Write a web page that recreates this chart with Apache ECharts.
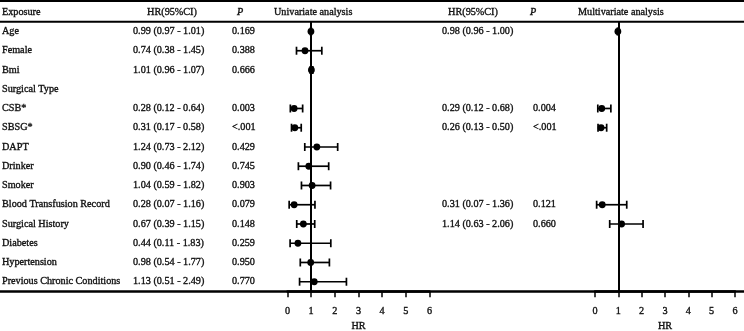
<!DOCTYPE html>
<html>
<head>
<meta charset="utf-8">
<script src="https://cdn.jsdelivr.net/npm/echarts@6/dist/echarts.min.js"></script>
<style>html,body{margin:0;padding:0;background:#fff}#c{width:744px;height:331px}</style>
</head>
<body>
<div id="c"></div>
<script>
// ---- data ----
const exposures = ['Age','Female','Bmi','Surgical Type','CSB*','SBSG*','DAPT','Drinker','Smoker','Blood Transfusion Record','Surgical History','Diabetes','Hypertension','Previous Chronic Conditions'];
const uniHR = [0.99,0.74,1.01,null,0.28,0.31,1.24,0.90,1.04,0.28,0.67,0.44,0.98,1.13];
const uniLo = [0.97,0.38,0.96,null,0.12,0.17,0.73,0.46,0.59,0.07,0.39,0.11,0.54,0.51];
const uniHi = [1.01,1.45,1.07,null,0.64,0.58,2.12,1.74,1.82,1.16,1.15,1.83,1.77,2.49];
const uniP  = ['0.169','0.388','0.666','','0.003','<.001','0.429','0.745','0.903','0.079','0.148','0.259','0.950','0.770'];
const mulHR = [0.98,null,null,null,0.29,0.26,null,null,null,0.31,1.14,null,null,null];
const mulLo = [0.96,null,null,null,0.12,0.13,null,null,null,0.07,0.63,null,null,null];
const mulHi = [1.00,null,null,null,0.68,0.50,null,null,null,1.36,2.06,null,null,null];
const mulP  = ['','','','','0.004','<.001','','','','0.121','0.660','','',''];
const xTicks = [0,1,2,3,4,5,6];
const headers = {exposure:'Exposure', ci:'HR(95%CI)', p:'P', uni:'Univariate analysis', mul:'Multivariate analysis'};

// ---- layout ----
const FONT = '"Liberation Serif", "Times New Roman", serif';
const FS = 10.2;
const TOP = 2.6, ROW_H = 19.25;
const NROWS = exposures.length + 1;
const tableRows = [headers.exposure].concat(exposures);

function fmt(v){ return v.toFixed(2); }
function ciText(h,l,u){ return h==null ? '' : fmt(h)+' ('+fmt(l)+' - '+fmt(u)+')'; }

function txt(x, y, text, align, italic){
  return {type:'text', x:x, y:y, silent:true,
    style:{text:text, fill:'#111', stroke:'#111', lineWidth:0.35, fontSize:FS, fontFamily:FONT, fontStyle: italic?'italic':'normal',
      align:align, textAlign:align, verticalAlign:'middle', textVerticalAlign:'middle'}};
}

function tableRender(params, api){
  const idx = api.value(1);
  const y = api.coord([0, idx])[1];
  const ch = [];
  if (idx === 0) {
    ch.push(txt(2, y, headers.exposure, 'left'));
    ch.push(txt(172, y, headers.ci, 'center'));
    ch.push(txt(240, y, headers.p, 'center', true));
    ch.push(txt(274, y, headers.uni, 'left'));
    ch.push(txt(473, y, headers.ci, 'center'));
    ch.push(txt(533, y, headers.p, 'center', true));
    ch.push(txt(578, y, headers.mul, 'left'));
    const half = api.size([0,1])[1]/2;
    ch.push({type:'line', silent:true, shape:{x1:0, y1:y+half, x2:744, y2:y+half}, style:{stroke:'#000', lineWidth:2}});
  } else {
    const i = idx-1;
    ch.push(txt(2, y, exposures[i], 'left'));
    ch.push(txt(133, y, ciText(uniHR[i],uniLo[i],uniHi[i]), 'left'));
    ch.push(txt(232, y, uniP[i], 'left'));
    ch.push(txt(442, y, ciText(mulHR[i],mulLo[i],mulHi[i]), 'left'));
    ch.push(txt(533, y, mulP[i], 'left'));
  }
  return {type:'group', children:ch};
}

function forestRender(params, api){
  const row = api.value(1);
  const pH = api.coord([api.value(0), row]);
  const pL = api.coord([api.value(2), row]);
  const pU = api.coord([api.value(3), row]);
  const cap = 4;
  const st = {stroke:'#000', lineWidth:1.7};
  return {type:'group', children:[
    {type:'line', shape:{x1:pL[0], y1:pL[1], x2:pU[0], y2:pU[1]}, style:st},
    {type:'line', shape:{x1:pL[0], y1:pL[1]-cap, x2:pL[0], y2:pL[1]+cap}, style:st},
    {type:'line', shape:{x1:pU[0], y1:pU[1]-cap, x2:pU[0], y2:pU[1]+cap}, style:st},
    {type:'circle', shape:{cx:pH[0], cy:pH[1], r:3.4}, style:{fill:'#000'}}
  ]};
}

function forestData(hr, lo, hi){
  const d = [];
  hr.forEach((h,i)=>{ if(h!=null) d.push([h, i, lo[i], hi[i]]); });
  return d;
}

const labelStyle = {color:'#111', fontSize:FS, fontFamily:FONT, textBorderColor:'#111', textBorderWidth:0.35};
function forestX(gi){
  return {gridIndex:gi, type:'value', min:xTicks[0], max:xTicks[xTicks.length-1], interval:1,
    axisLine:{show:true, lineStyle:{color:'#000', width:2.5}},
    axisTick:{show:true, inside:false, length:6, lineStyle:{color:'#000', width:1.5}},
    axisLabel:Object.assign({margin:15}, labelStyle),
    splitLine:{show:false},
    name:'HR', nameLocation:'middle', nameGap:22,
    nameTextStyle:labelStyle};
}
function forestY(gi){
  return {gridIndex:gi, type:'category', inverse:true, data:exposures,
    axisLine:{show:false}, axisTick:{show:false}, axisLabel:{show:false}, splitLine:{show:false}};
}
function refLine(){
  return {silent:true, symbol:'none', label:{show:false},
    lineStyle:{color:'#000', width:2, type:'solid'}, data:[{xAxis:1}]};
}

const chart = echarts.init(document.getElementById('c'), null, {renderer:'canvas'});
chart.setOption({
  animation:false,
  backgroundColor:'#fff',
  grid:[
    {left:0, right:0, top:TOP, height:NROWS*ROW_H, outerBoundsMode:'none', containLabel:false},
    {left:287.5, width:142, top:TOP+ROW_H, height:(NROWS-1)*ROW_H, outerBoundsMode:'none', containLabel:false},
    {left:595, width:140, top:TOP+ROW_H, height:(NROWS-1)*ROW_H, outerBoundsMode:'none', containLabel:false}
  ],
  xAxis:[
    {gridIndex:0, type:'value', min:0, max:744, position:'bottom',
      axisLine:{show:true, lineStyle:{color:'#000', width:2.5}}, axisTick:{show:false}, axisLabel:{show:false}, splitLine:{show:false}},
    {gridIndex:0, type:'value', min:0, max:744, position:'top', offset:1.6,
      axisLine:{show:true, lineStyle:{color:'#000', width:2}}, axisTick:{show:false}, axisLabel:{show:false}, splitLine:{show:false}},
    forestX(1), forestX(2)
  ],
  yAxis:[
    {gridIndex:0, type:'category', inverse:true, data:tableRows,
      axisLine:{show:false}, axisTick:{show:false}, axisLabel:{show:false}, splitLine:{show:false}},
    forestY(1), forestY(2)
  ],
  series:[
    {type:'custom', xAxisIndex:0, yAxisIndex:0, renderItem:tableRender,
      data: tableRows.map((r,i)=>[0,i]), encode:{x:0, y:1}, silent:true},
    {type:'custom', xAxisIndex:2, yAxisIndex:1, renderItem:forestRender,
      data: forestData(uniHR, uniLo, uniHi), encode:{x:[0,2,3], y:1}, markLine:refLine()},
    {type:'custom', xAxisIndex:3, yAxisIndex:2, renderItem:forestRender,
      data: forestData(mulHR, mulLo, mulHi), encode:{x:[0,2,3], y:1}, markLine:refLine()}
  ]
});
</script>
</body>
</html>
